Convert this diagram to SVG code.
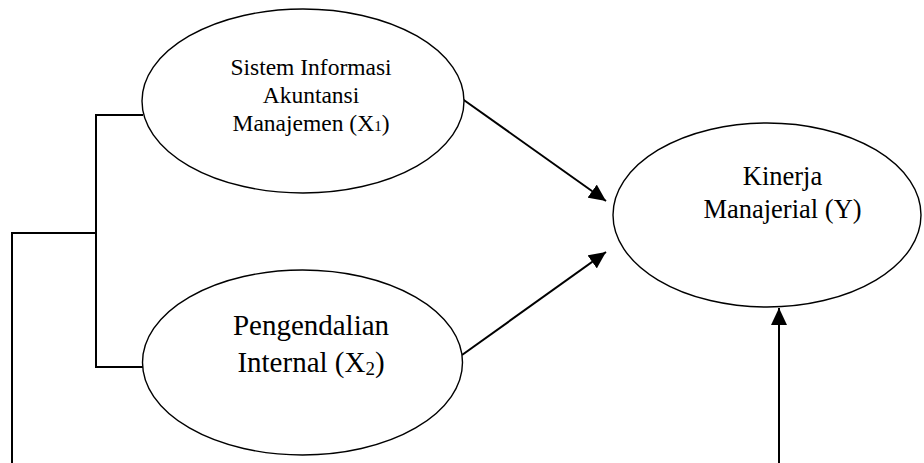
<svg xmlns="http://www.w3.org/2000/svg" width="924" height="463" viewBox="0 0 924 463">
  <style>
    .node ellipse { fill: #ffffff; stroke: #000000; stroke-width: 1.4; }
    .lbl { font-family: "Liberation Serif", "Times New Roman", serif; fill: #000000; text-anchor: middle; }
    .conn { fill: none; stroke: #000000; stroke-width: 2; }
  </style>
  <defs>
    <marker id="arrow" markerUnits="userSpaceOnUse" markerWidth="18" markerHeight="16" refX="17" refY="8" orient="auto">
      <path d="M0,0 L17,8 L0,16 Z" fill="#000000"/>
    </marker>
  </defs>
  <rect width="924" height="463" fill="#ffffff"/>
  <g id="connectors">
    <polyline class="conn" points="143,115 96,115 96,367 143,367"/>
    <polyline class="conn" points="96,233 12,233 12,463"/>
    <line class="conn" x1="461" y1="98" x2="606" y2="201" marker-end="url(#arrow)"/>
    <line class="conn" x1="462" y1="355" x2="606" y2="252" marker-end="url(#arrow)"/>
    <line class="conn" x1="779" y1="463" x2="779" y2="308" marker-end="url(#arrow)"/>
  </g>
  <g id="node-x1" class="node">
    <ellipse cx="303" cy="101" rx="161" ry="92"/>
    <text class="lbl" font-size="23.5" x="311" y="75">Sistem Informasi</text>
    <text class="lbl" font-size="23.5" x="311" y="103">Akuntansi</text>
    <text class="lbl" font-size="23.5" x="311" y="131">Manajemen (X<tspan font-size="15" dy="0">1</tspan>)</text>
  </g>
  <g id="node-x2" class="node">
    <ellipse cx="302.5" cy="362.5" rx="160" ry="92.5"/>
    <text class="lbl" font-size="29" x="311" y="335">Pengendalian</text>
    <text class="lbl" font-size="29" x="311" y="372">Internal (X<tspan font-size="19" dy="3">2</tspan><tspan dy="-3">)</tspan></text>
  </g>
  <g id="node-y" class="node">
    <ellipse cx="767" cy="215" rx="154" ry="92"/>
    <text class="lbl" font-size="26.5" x="782.5" y="185">Kinerja</text>
    <text class="lbl" font-size="26.5" x="782.5" y="218">Manajerial (Y)</text>
  </g>
</svg>
